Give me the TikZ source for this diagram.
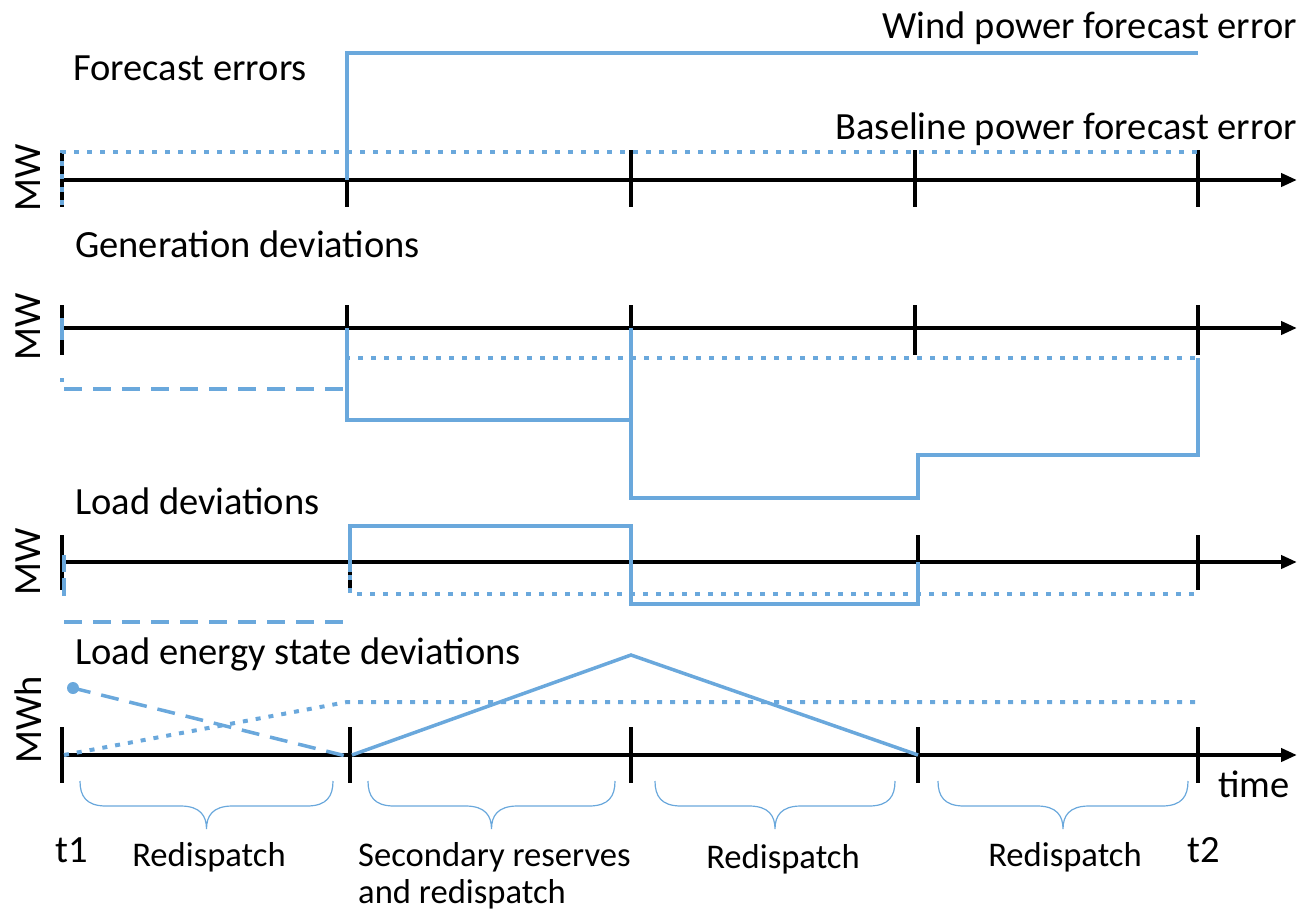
\documentclass[tikz,border=0pt]{standalone}
\usepackage{fontspec}
\setmainfont{Carlito}
\usetikzlibrary{arrows.meta}
\definecolor{lblue}{HTML}{6AA8DC}
\tikzset{
  axis/.style={line width=4pt,-{Triangle[length=16pt,width=13pt]}},
  tick/.style={line width=4pt},
  sol/.style={lblue,line width=3.5pt},
  dot/.style={lblue,line width=4pt,dash pattern=on 5pt off 8pt},
  dsh/.style={lblue,line width=3.5pt,dash pattern=on 18pt off 11pt},
  brc/.style={lblue,line width=1.2pt},
  txt/.style={font=\fontsize{38.5}{45}\selectfont,inner sep=0pt},
  btxt/.style={font=\fontsize{34.6}{40}\selectfont,inner sep=0pt},
}
\begin{document}
\begin{tikzpicture}[x=1pt,y=-1pt]
\useasboundingbox (0,0) rectangle (1306,913);
% ---------- Panel 1 ----------
\draw[axis] (62,180) coordinate (p1s) -- (1297,180) coordinate (p1e);
\foreach \xx in {62,347,631,915,1198} \draw[tick] (\xx,150) -- (\xx,207);
\draw[dot] (62,205) -- (62,152) -- (1198,152);
\draw[sol] (347,180) -- (347,53) -- (1198,53);
\node[txt,anchor=base west] (t1a) at (73,80) {Forecast errors};
\node[txt,anchor=base east] (t1b) at (1297,38) {Wind power forecast error};
\node[txt,anchor=base east] (t1c) at (1297,139) {Baseline power forecast error};
\node[txt,rotate=90] (mw1) at (28,178) {MW};
% ---------- Panel 2 ----------
\draw[axis] (62,328) -- (1297,328);
\foreach \xx in {62,347,631,915,1198} \draw[tick] (\xx,305) -- (\xx,355);
\draw[sol] (62,318) -- (62,340);
\draw[dsh] (62,378) -- (62,382);
\draw[dsh] (64,389) -- (347,389);
\draw[dot] (347,330) -- (347,358) -- (1198,358);
\draw[sol] (347,328) -- (347,420) -- (631,420) -- (631,328);
\draw[sol] (631,420) -- (631,498) -- (918,498) -- (918,455) -- (1198,455) -- (1198,358);
\node[txt,anchor=base west] (t2a) at (75,257) {Generation deviations};
\node[txt,rotate=90] (mw2) at (28,327) {MW};
% ---------- Panel 3 ----------
\draw[axis] (62,562) -- (1297,562);
\foreach \xx in {62,350,631,918,1198} \draw[tick] (\xx,535) -- (\xx,590);
\draw[sol] (64,555) -- (64,572);
\draw[dsh] (64,578) -- (64,605);
\draw[dsh] (64,622) -- (350,622);
\draw[sol] (350,572) -- (350,526) -- (631,526) -- (631,604) -- (918,604) -- (918,562);
\draw[dot] (350,575) -- (350,594) -- (1198,594);
\node[txt,anchor=base west] (t3a) at (75,514) {Load deviations};
\node[txt,rotate=90] (mw3) at (28,562) {MW};
% ---------- Panel 4 ----------
\draw[axis] (62,755) -- (1297,755);
\foreach \xx in {62,350,631,918,1198} \draw[tick] (\xx,727) -- (\xx,783);
\fill[lblue] (73,688) circle (6pt);
\draw[dsh] (73,688) -- (350,757);
\draw[dot] (64,755) -- (347,702) -- (1198,702);
\draw[sol] (352,755) -- (631,655) -- (918,755);
\node[txt,anchor=base west] (t4a) at (75,664) {Load energy state deviations};
\node[txt,rotate=90] (mw4) at (28,720) {MWh};
\node[txt,anchor=base west] (time) at (1218,797) {time};
\node[txt,anchor=base west] (tt1) at (55,862) {t1};
\node[txt,anchor=base west] (tt2) at (1187,862) {t2};
% ---------- Braces ----------
\foreach \l/\r in {80/333,368/615,655/895,938/1188}{
  \pgfmathsetmacro{\m}{(\l+\r)/2}
  \draw[brc] (\l,781) .. controls (\l,796) and (\l+6,806) .. (\l+26,806)
    -- (\m-26,806) .. controls (\m-6,806) and (\m,816) .. (\m,829)
    .. controls (\m,816) and (\m+6,806) .. (\m+26,806)
    -- (\r-26,806) .. controls (\r-6,806) and (\r,796) .. (\r,781);
}
\node[btxt,anchor=base] (r1) at (209,866) {Redispatch};
\node[btxt,anchor=base west] (r2a) at (358,866) {Secondary reserves};
\node[btxt,anchor=base west] (r2b) at (358,903) {and redispatch};
\node[btxt,anchor=base] (r3) at (783,868) {Redispatch};
\node[btxt,anchor=base] (r4) at (1065,866) {Redispatch};
\end{tikzpicture}
\end{document}
